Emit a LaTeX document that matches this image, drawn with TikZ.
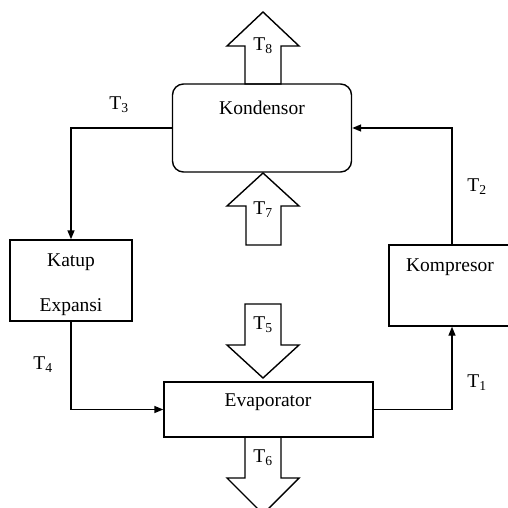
\documentclass[tikz,border=0pt]{standalone}
\usepackage{fontspec}
\setmainfont{Liberation Serif}
\usetikzlibrary{arrows.meta}

\begin{document}
\begin{tikzpicture}[x=1pt,y=-1pt,
		every node/.style={font=\fontsize{19.5}{23}\selectfont, inner sep=0pt},
		unit/.style={draw, line width=1.4pt},
		flow/.style={line width=1.4pt, -{Triangle[length=9pt,width=7pt]}},
		fat/.style={draw, line width=1.4pt, line join=miter}]
		\useasboundingbox (0,0) rectangle (508,508);
		% units
		\node (kond) [unit, rounded corners=11pt, minimum width=179pt, minimum height=88pt] at (262,128) {};
		\node (kondtext) at (262,108) {Kondensor};
		\node (katup) [unit, minimum width=122pt, minimum height=81pt] at (71,280.5) {};
		\node (katuptext) at (71,262) {Katup};
		\node (expansitext) at (71,307) {Expansi};
		\node (komp) [unit, minimum width=126pt, minimum height=81pt] at (452,285.5) {};
		\node (komptext) at (450,267) {Kompresor};
		\node (evap) [unit, minimum width=209pt, minimum height=55pt] at (268.5,409.5) {};
		\node (evaptext) at (268,402) {Evaporator};
		% refrigerant loop
		\draw [flow] (kond.west) -| (katup.north);
		\draw [flow] (katup.south) |- (evap.west);
		\draw [flow] (evap.east) -| (komp.south);
		\draw [flow] (komp.north) |- (kond.east);
		\node (t3) at (119,105) {T\textsubscript{3}};
		\node (t4) at (43,365) {T\textsubscript{4}};
		\node (t2) at (477,187) {T\textsubscript{2}};
		\node (t1) at (477,383) {T\textsubscript{1}};
		% heat in / out
		\draw [fat] (245,84) -- (245,46) -- (227,46) -- (263,12) -- (299,46) -- (281,46) -- (281,84) -- cycle;
		\node (t8) at (263,46) {T\textsubscript{8}};
		\draw [fat] (246,245) -- (246,206) -- (227,206) -- (263,173) -- (299,206) -- (281,206) -- (281,245) -- cycle;
		\node (t7) at (263,210) {T\textsubscript{7}};
		\draw [fat] (245,304) -- (281,304) -- (281,345) -- (299,345) -- (263,378) -- (227,345) -- (245,345) -- cycle;
		\node (t5) at (263,325) {T\textsubscript{5}};
		\draw [fat] (245,437) -- (281,437) -- (281,478) -- (299,478) -- (263,514) -- (227,478) -- (245,478) -- cycle;
		\node (t6) at (263,458) {T\textsubscript{6}};
\end{tikzpicture}
\end{document}
